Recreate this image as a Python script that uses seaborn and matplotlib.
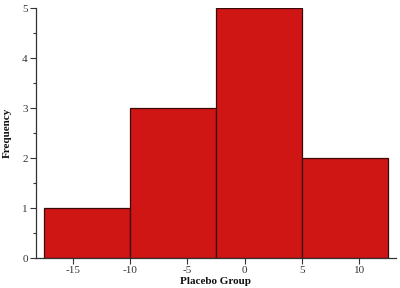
import matplotlib
matplotlib.use("Agg")
import matplotlib.pyplot as plt
import seaborn as sns
import pandas as pd
from matplotlib.ticker import MultipleLocator

bin_edges = [-17.5, -10, -2.5, 5, 12.5]
bin_centers = [-13.75, -6.25, 1.25, 8.75]
counts = [1, 3, 5, 2]
x_ticks = [-15, -10, -5, 0, 5, 10]
y_ticks = [0, 1, 2, 3, 4, 5]

df = pd.DataFrame({"value": bin_centers, "count": counts})

sns.set_style("white")
plt.rcParams["font.family"] = ["Liberation Serif", "DejaVu Serif"]

fig = plt.figure(figsize=(4.0, 2.88), dpi=100)
ax = fig.add_axes([0.09, 0.104, 0.90, 0.868])

sns.histplot(data=df, x="value", weights="count", bins=bin_edges, ax=ax,
             color="#d01515", alpha=1.0, edgecolor="#3a0a0a", linewidth=0.9)

ax.set_xlim(-18.2, 13.2)
ax.set_ylim(0, 5)
ax.set_xticks(x_ticks)
ax.set_xticklabels([str(t) for t in x_ticks])
ax.set_yticks(y_ticks)
ax.yaxis.set_minor_locator(MultipleLocator(0.5))
ax.tick_params(axis="both", which="major", labelsize=8, length=4, width=0.8,
               color="#333333", labelcolor="#333333", direction="out", pad=2)
ax.tick_params(axis="y", which="minor", length=2.5, width=0.8, color="#333333", left=True)
ax.tick_params(axis="x", which="both", bottom=True)
ax.tick_params(axis="y", which="major", left=True)

for s in ["top", "right"]:
    ax.spines[s].set_visible(False)
for s in ["left", "bottom"]:
    ax.spines[s].set_color("#333333")
    ax.spines[s].set_linewidth(0.9)

ax.set_xlabel("Placebo Group", fontsize=8, fontweight="bold", labelpad=1, color="#111111")
ax.set_ylabel("Frequency", fontsize=8, fontweight="bold", color="#111111")
ax.yaxis.set_label_coords(-0.066, 0.5)

fig.savefig("out.png", dpi=100)
